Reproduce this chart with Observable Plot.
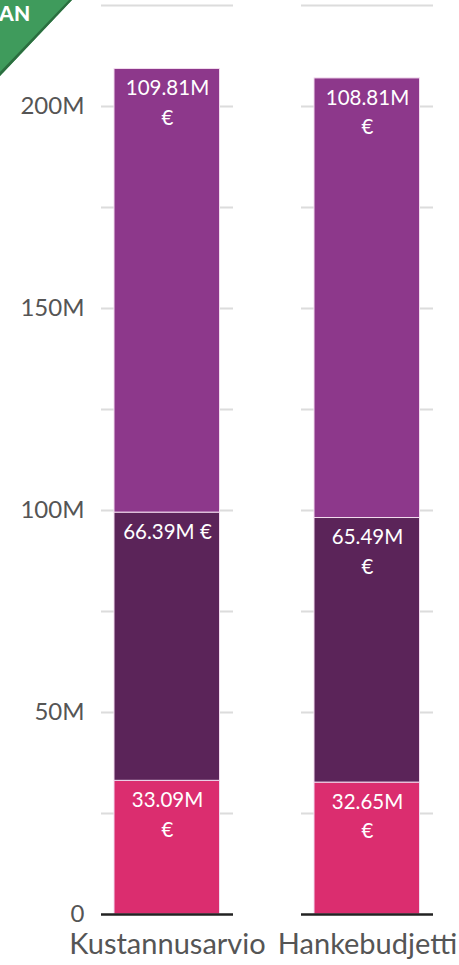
<!DOCTYPE html>
<html>
<head>
<meta charset="utf-8">
<script src="https://cdn.jsdelivr.net/npm/d3@7"></script>
<script src="https://cdn.jsdelivr.net/npm/@observablehq/plot@0.6"></script>
<style>
  html, body { margin: 0; padding: 0; background: #fff; }
  #wrap { position: relative; width: 459px; height: 965px; overflow: hidden; }
  #corner {
    position: absolute; left: 0; top: 0; width: 72px; height: 76px;
    background: #3f9b5c;
    clip-path: polygon(0 0, 100% 0, 0 100%);
    font-family: Lato, sans-serif; font-weight: 900; color: #fff; font-size: 21px;
  }
  #corner span { position: absolute; left: -1px; top: 0px; letter-spacing: 0.3px; }
  #edge {
    position: absolute; left: 0; top: 0; width: 72px; height: 76px;
    background: #2b6e3f;
    clip-path: polygon(69px 0, 72px 0, 0 76px, 0 72px);
  }
  #chart { position: absolute; left: 0; top: 0; }
</style>
</head>
<body>
<div id="wrap">
  <div id="chart"></div>
  <div id="corner"><span>AN</span></div>
  <div id="edge"></div>
</div>
<script>
const categories = ["Kustannusarvio", "Hankebudjetti"];
const segments = ["alaosa", "keskiosa", "yläosa"];
const bottomValues = [33.09, 32.65];
const middleValues = [66.39, 65.49];
const topValues = [109.81, 108.81];
const bottomLabels = ["33.09M\n€", "32.65M\n€"];
const middleLabels = ["66.39M €", "65.49M\n€"];
const topLabels = ["109.81M\n€", "108.81M\n€"];
const gridTicks = [25, 50, 75, 100, 125, 150, 175, 200, 225];
const yTicks = [0, 50, 100, 150, 200];

const segColors = ["#db2d6f", "#5b2459", "#8d388b"];

const rows = [];
categories.forEach((c, i) => {
  rows.push({cat: c, seg: segments[0], value: bottomValues[i], label: bottomLabels[i]});
  rows.push({cat: c, seg: segments[1], value: middleValues[i], label: middleLabels[i]});
  rows.push({cat: c, seg: segments[2], value: topValues[i], label: topLabels[i]});
});
const grid = categories.flatMap(c => gridTicks.map(t => ({cat: c, y: t})));
const zero = categories.map(c => ({cat: c, y: 0}));

const chart = Plot.plot({
  width: 459,
  height: 965,
  marginTop: 5,
  marginBottom: 51,
  marginLeft: 100,
  marginRight: 25,
  style: {fontFamily: "Lato, sans-serif", color: "#555", background: "transparent"},
  x: {domain: categories, paddingInner: 0.338, paddingOuter: 0, label: null},
  y: {domain: [0, 225], label: null},
  color: {domain: segments, range: segColors},
  marks: [
    Plot.tickY(grid, {x: "cat", y: "y", stroke: "#dcdcdc", strokeWidth: 1.8}),
    Plot.barY(rows, {x: "cat", y: "value", fill: "seg", insetLeft: 13, insetRight: 13.5,
      stroke: "#f3dcef", strokeWidth: 1}),
    Plot.text(rows, Plot.stackY2({x: "cat", y: "value", text: "label", fill: "white",
      lineAnchor: "top", dy: 5, fontSize: 20.5, lineHeight: 1.45})),
    Plot.tickY(zero, {x: "cat", y: "y", stroke: "#222", strokeWidth: 2.5}),
    Plot.axisY({ticks: yTicks, tickSize: 0, tickPadding: 16, fontSize: 24,
      tickFormat: d => d === 0 ? "0" : d + "M"}),
    Plot.axisX({tickSize: 0, tickPadding: 19, fontSize: 29})
  ]
});
document.getElementById("chart").appendChild(chart);
</script>
</body>
</html>
